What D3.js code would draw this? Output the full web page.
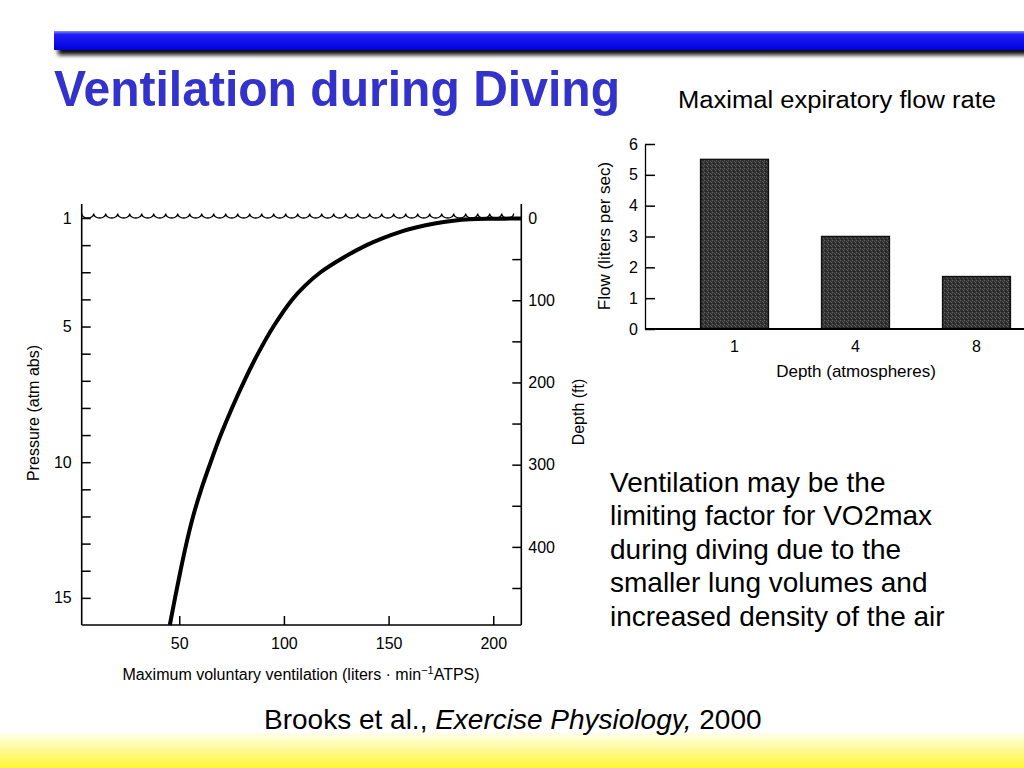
<!DOCTYPE html>
<html><head><meta charset="utf-8">
<script src="https://cdn.jsdelivr.net/npm/d3@7"></script>
<style>
body{margin:0;background:#fff}
svg{display:block;font-family:"Liberation Sans",Arial,Helvetica,sans-serif}
</style>
</head><body>
<svg id="c" width="1024" height="768"></svg>
<script>
// ---------- data ----------
const pressureAtm = [16, 15, 14, 13, 12, 11, 10, 9, 8, 7, 6, 5, 4, 3.5, 3, 2.5, 2, 1.75, 1.5, 1.35, 1.2, 1.1, 1.05, 1.03, 1.02];
const mvvLiters   = [45.5, 48, 50.6, 53.4, 56.6, 60.5, 65, 69.8, 75.2, 81.1, 87.6, 95, 104, 110, 117.5, 127.5, 139.5, 147, 156, 163, 172, 181, 189, 198, 213.4];
const pressureLabels = [1, 5, 10, 15];
const pressureTicks = [1,2,3,4,5,6,7,8,9,10,11,12,13,14,15];
const depthLabels = [0, 100, 200, 300, 400];
const depthTicks = [0,50,100,150,200,250,300,350,400,450];
const mvvTicks = [50, 100, 150, 200];
const barDepths = ["1", "4", "8"];
const barFlow = [5.5, 3.0, 1.7];
const flowTicks = [0, 1, 2, 3, 4, 5, 6];
const noteLines = ["Ventilation may be the", "limiting factor for VO2max", "during diving due to the", "smaller lung volumes and", "increased density of the air"];

// ---------- setup ----------
const svg = d3.select("#c");
const defs = svg.append("defs");

const bg = defs.append("linearGradient").attr("id","blueBar").attr("x1",0).attr("y1",0).attr("x2",0).attr("y2",1);
bg.append("stop").attr("offset","0%").attr("stop-color","#8a8aff");
bg.append("stop").attr("offset","18%").attr("stop-color","#2020f5");
bg.append("stop").attr("offset","100%").attr("stop-color","#0000dc");

const yg = defs.append("linearGradient").attr("id","yellow").attr("x1",0).attr("y1",0).attr("x2",0).attr("y2",1);
yg.append("stop").attr("offset","0%").attr("stop-color","#ffffff");
yg.append("stop").attr("offset","100%").attr("stop-color","#fff533");

const blur = defs.append("filter").attr("id","sh").attr("x","-5%").attr("y","-50%").attr("width","110%").attr("height","200%");
blur.append("feGaussianBlur").attr("stdDeviation",2.2);

const pat = defs.append("pattern").attr("id","stipple").attr("patternUnits","userSpaceOnUse").attr("width",4).attr("height",4);
pat.append("rect").attr("width",4).attr("height",4).attr("fill","#353535");
[[0,0,"#6a6a6a"],[2,1,"#555"],[1,3,"#1e1e1e"],[3,2,"#5c5c5c"],[2,3,"#262626"],[1,1,"#2a2a2a"]].forEach(([px,py,c])=>
  pat.append("rect").attr("x",px).attr("y",py).attr("width",1).attr("height",1).attr("fill",c));

// ---------- header ----------
svg.append("rect").attr("x",58).attr("y",37).attr("width",980).attr("height",18).attr("fill","#111").attr("filter","url(#sh)");
svg.append("rect").attr("x",54).attr("y",31).attr("width",970).attr("height",19).attr("fill","url(#blueBar)");

svg.append("text").attr("x",54).attr("y",106).attr("font-size",50).attr("font-weight","bold")
  .attr("fill","#3333cc").attr("textLength",566).attr("lengthAdjust","spacingAndGlyphs")
  .text("Ventilation during Diving");

svg.append("text").attr("x",678).attr("y",108).attr("font-size",23).attr("fill","#000")
  .attr("textLength",318).attr("lengthAdjust","spacingAndGlyphs")
  .text("Maximal expiratory flow rate");

// ---------- bottom band ----------
svg.append("rect").attr("x",0).attr("y",730).attr("width",1024).attr("height",38).attr("fill","url(#yellow)");
const cite = svg.append("text").attr("x",264).attr("y",729).attr("font-size",28).attr("fill","#000");
cite.append("tspan").text("Brooks et al., ");
cite.append("tspan").attr("font-style","italic").text("Exercise Physiology,");
cite.append("tspan").text(" 2000");

// ---------- left chart ----------
const x = d3.scaleLinear().domain([3.4, 213.4]).range([81.7, 521.3]);
const yP = d3.scaleLinear().domain([1, 16]).range([218, 625]);
const yD = d3.scaleLinear().domain([0, 495]).range([218, 625]);
const L = svg.append("g");

L.append("line").attr("x1",x.range()[0]).attr("x2",x.range()[0]).attr("y1",204).attr("y2",yP.range()[1]).attr("stroke","#000").attr("stroke-width",1.6);
L.append("line").attr("x1",x.range()[1]).attr("x2",x.range()[1]).attr("y1",204).attr("y2",yP.range()[1]).attr("stroke","#000").attr("stroke-width",1.6);
L.append("line").attr("x1",x.range()[0]).attr("x2",x.range()[1]).attr("y1",yP.range()[1]).attr("y2",yP.range()[1]).attr("stroke","#000").attr("stroke-width",1.6);

function styleAxis(g, fs){
  g.select(".domain").remove();
  g.selectAll(".tick line").attr("stroke","#000").attr("stroke-width",1.5);
  g.selectAll(".tick text").attr("font-size",fs).attr("fill","#000").attr("font-family",null);
}

L.append("g").attr("transform",`translate(${x.range()[0]},0)`)
  .call(d3.axisLeft(yP).tickValues(pressureTicks).tickSize(-9).tickPadding(10)
    .tickFormat(d => pressureLabels.includes(d) ? d : ""))
  .call(g => styleAxis(g,16));

L.append("g").attr("transform",`translate(${x.range()[1]},0)`)
  .call(d3.axisRight(yD).tickValues(depthTicks).tickSize(-9).tickPadding(7)
    .tickFormat(d => depthLabels.includes(d) ? d : ""))
  .call(g => styleAxis(g,16));

L.append("g").attr("transform",`translate(0,${yP.range()[1]})`)
  .call(d3.axisBottom(x).tickValues(mvvTicks).tickSize(-9).tickPadding(13))
  .call(g => styleAxis(g,16));

// water surface waves
(function(){
  const x0 = x.range()[0], x1 = x.range()[1], yTop = yP(1) - 4.5, per = 12;
  let d = `M${x0},${yTop}`;
  for (let xx = x0; xx + per <= x1 + 0.5; xx += per) d += ` a6,4.5 0 0 0 ${per},0`;
  L.append("path").attr("d",d).attr("fill","none").attr("stroke","#000").attr("stroke-width",1.3);
})();

// curve
L.append("path")
  .datum(pressureAtm.map((p,i)=>({p, v: mvvLiters[i]})))
  .attr("fill","none").attr("stroke","#000").attr("stroke-width",4).attr("stroke-linecap","butt")
  .attr("d", d3.line().x(d=>x(d.v)).y(d=>yP(d.p)).curve(d3.curveCatmullRom.alpha(0.5)));

// axis titles
L.append("text").attr("transform","translate(39,413) rotate(-90)").attr("text-anchor","middle")
  .attr("font-size",16).text("Pressure (atm abs)");
L.append("text").attr("transform","translate(584,412) rotate(-90)").attr("text-anchor","middle")
  .attr("font-size",16).text("Depth (ft)");
const xt = L.append("text").attr("x",301).attr("y",680).attr("text-anchor","middle").attr("font-size",16);
xt.append("tspan").text("Maximum voluntary ventilation (liters \u00b7 min");
xt.append("tspan").attr("font-size",11).attr("dy",-6).text("\u22121");
xt.append("tspan").attr("dy",6).text("ATPS)");

// ---------- bar chart ----------
const xb = d3.scaleBand().domain(barDepths).range([674, 1037]).paddingInner(0.44).paddingOuter(0.22);
const yb = d3.scaleLinear().domain([0, 6]).range([329, 144]);
const B = svg.append("g");

B.selectAll("rect.bar").data(barDepths.map((k,i)=>({k, v: barFlow[i]}))).join("rect")
  .attr("class","bar")
  .attr("x", d=>xb(d.k)).attr("width", xb.bandwidth())
  .attr("y", d=>yb(d.v)).attr("height", d=>yb(0)-yb(d.v))
  .attr("fill","url(#stipple)").attr("stroke","#111").attr("stroke-width",1.5);

B.append("g").attr("transform","translate(645,0)")
  .call(d3.axisLeft(yb).tickValues(flowTicks).tickSize(-10).tickPadding(7).tickSizeOuter(0).tickFormat(d3.format("d")))
  .call(g=>{
    g.select(".domain").attr("stroke","#000").attr("stroke-width",1.3);
    g.selectAll(".tick line").attr("stroke","#000").attr("stroke-width",1.5);
    g.selectAll(".tick text").attr("font-size",16).attr("fill","#000").attr("font-family",null);
  });

B.append("line").attr("x1",645).attr("x2",1024).attr("y1",yb(0)).attr("y2",yb(0)).attr("stroke","#000").attr("stroke-width",1.8);

B.append("g").attr("transform",`translate(0,${yb(0)})`)
  .call(d3.axisBottom(xb).tickSize(0).tickPadding(12))
  .call(g=>{
    g.select(".domain").remove();
    g.selectAll(".tick text").attr("font-size",16).attr("fill","#000").attr("font-family",null);
  });

B.append("text").attr("transform","translate(610,236) rotate(-90)").attr("text-anchor","middle")
  .attr("font-size",17).text("Flow (liters per sec)");
B.append("text").attr("x",856).attr("y",377).attr("text-anchor","middle").attr("font-size",17)
  .text("Depth (atmospheres)");

// ---------- note text ----------
svg.append("g").selectAll("text").data(noteLines).join("text")
  .attr("x",610).attr("y",(d,i)=>491.5 + i*33.6).attr("font-size",28).attr("fill","#000")
  .text(d=>d);
</script>
</body></html>
